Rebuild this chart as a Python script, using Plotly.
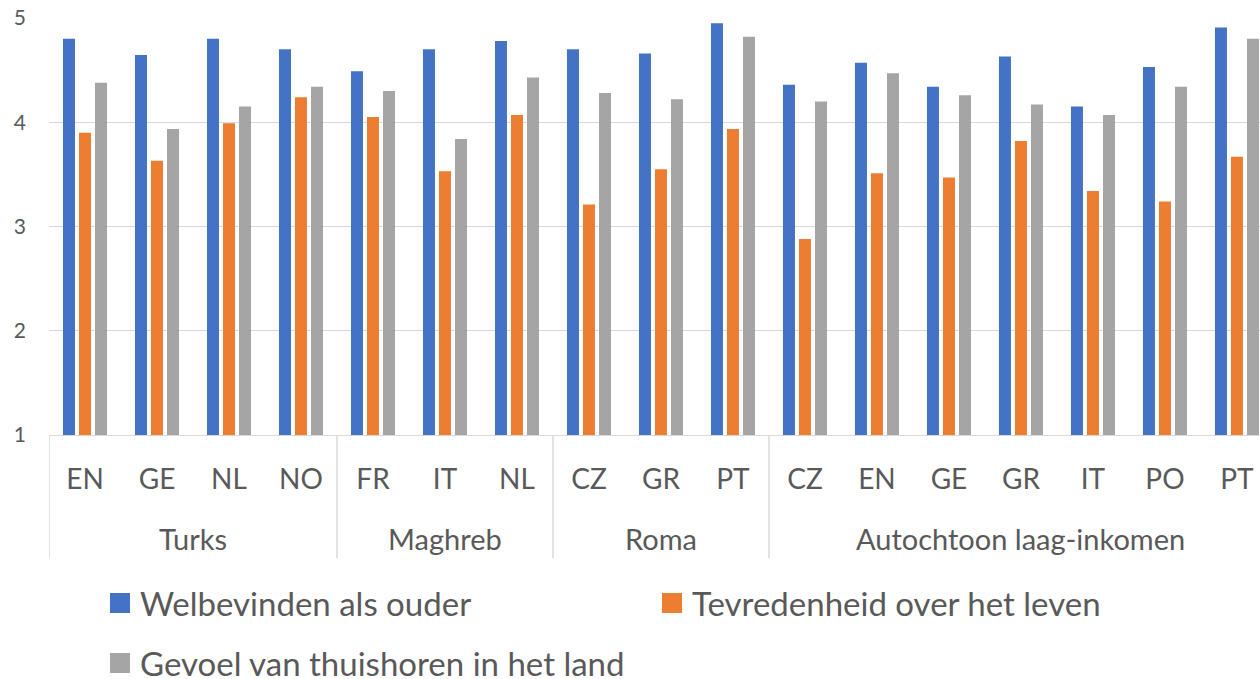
import plotly.graph_objects as go

groups = ["Turks"] * 4 + ["Maghreb"] * 3 + ["Roma"] * 3 + ["Autochtoon laag-inkomen"] * 7
countries = ["EN", "GE", "NL", "NO", "FR", "IT", "NL", "CZ", "GR", "PT",
             "CZ", "EN", "GE", "GR", "IT", "PO", "PT"]

welbevinden = [4.80, 4.645, 4.80, 4.70, 4.49, 4.70, 4.78, 4.70, 4.66, 4.95,
               4.36, 4.57, 4.34, 4.63, 4.15, 4.53, 4.91]
tevredenheid = [3.90, 3.63, 3.99, 4.24, 4.05, 3.53, 4.07, 3.21, 3.55, 3.935,
                2.88, 3.51, 3.47, 3.82, 3.34, 3.24, 3.67]
thuishoren = [4.38, 3.935, 4.15, 4.34, 4.30, 3.84, 4.43, 4.28, 4.22, 4.82,
              4.20, 4.47, 4.26, 4.17, 4.07, 4.34, 4.80]

series_names = ["Welbevinden als ouder", "Tevredenheid over het leven",
                "Gevoel van thuishoren in het land"]
series_values = [welbevinden, tevredenheid, thuishoren]
colors = ["#4472C4", "#ED7D31", "#A5A5A5"]
legend_ids = ["legend", "legend", "legend2"]

FONT = "Lato, 'Open Sans', sans-serif"
TXT = "#595959"
GRID = "#D9D9D9"

pos = list(range(len(countries)))

fig = go.Figure()
for name, vals, col in zip(series_names, series_values, colors):
    fig.add_trace(go.Bar(
        x=pos, y=[v - 1 for v in vals], base=1,
        name=name, marker=dict(color=col, line=dict(width=0)),
        showlegend=False,
    ))

# legend entries (larger square swatches)
for name, col, lg in zip(series_names, colors, legend_ids):
    fig.add_trace(go.Scatter(
        x=[None], y=[None], mode="markers", name=name, legend=lg,
        marker=dict(symbol="square", size=16, color=col,
                    line=dict(color=col, width=4)),
    ))

# group labels and dividers of the two-level category axis
PLOT_H = 679 - 18 - 244
group_order = []
for g in groups:
    if g not in group_order:
        group_order.append(g)
boundaries = [-0.5]
for g in group_order:
    idx = [i for i, gg in enumerate(groups) if gg == g]
    fig.add_annotation(
        x=sum(idx) / len(idx), xref="x", y=-(538 - 435) / PLOT_H, yref="paper",
        text=g, showarrow=False, yanchor="middle",
        font=dict(size=29, color=TXT, family=FONT),
    )
    boundaries.append(idx[-1] + 0.5)
for b in boundaries:
    fig.add_shape(
        type="line", xref="x", yref="paper", x0=b, x1=b,
        y0=0, y1=-(558 - 435) / PLOT_H,
        line=dict(color=GRID, width=1.5),
    )

fig.update_layout(
    width=1260, height=679,
    margin=dict(l=49, r=0, t=18, b=244),
    paper_bgcolor="white", plot_bgcolor="white",
    font=dict(family=FONT, color=TXT),
    barmode="group", bargap=0.333, bargroupgap=0.25,
    showlegend=True,
    legend=dict(
        orientation="h", xref="container", yref="container",
        x=100 / 1260, xanchor="left", y=1 - 603 / 679, yanchor="middle",
        font=dict(size=33, color=TXT, family=FONT),
        entrywidth=507, itemsizing="trace", bgcolor="rgba(0,0,0,0)",
    ),
    legend2=dict(
        orientation="h", xref="container", yref="container",
        x=100 / 1260, xanchor="left", y=1 - 663 / 679, yanchor="middle",
        font=dict(size=33, color=TXT, family=FONT),
        itemsizing="trace", bgcolor="rgba(0,0,0,0)",
    ),
    xaxis=dict(
        range=[-0.5, 16.32], tickmode="array", tickvals=pos, ticktext=countries,
        showline=True, linecolor=GRID, linewidth=1.3,
        showgrid=False, zeroline=False,
        ticks="outside", ticklen=19, tickcolor="rgba(0,0,0,0)",
        tickfont=dict(size=28, color=TXT, family=FONT),
        fixedrange=True,
    ),
    yaxis=dict(
        range=[1, 5], tickvals=[1, 2, 3, 4, 5],
        showgrid=True, gridcolor=GRID, gridwidth=1.3,
        zeroline=False, showline=False, ticks="",
        ticklabelstandoff=22,
        tickfont=dict(size=21, color=TXT, family=FONT),
        fixedrange=True,
    ),
)

fig.write_html(
    "out.html",
    config={"displayModeBar": False},
    post_script="document.body.style.margin='0';document.body.style.overflow='hidden';",
)
